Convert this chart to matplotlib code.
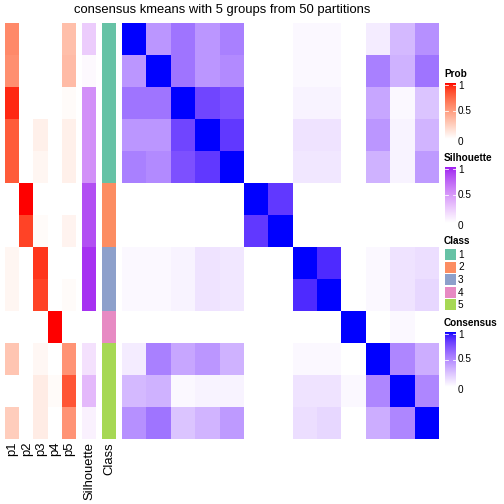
import numpy as np
import matplotlib
matplotlib.use("Agg")
import matplotlib.pyplot as plt
from matplotlib.colors import ListedColormap

plt.rcParams['font.family'] = ['Liberation Sans', 'DejaVu Sans']

# membership probabilities for each sample (13 samples x 5 classes)
prob_labels = ["p1", "p2", "p3", "p4", "p5"]
prob = [
    [0.60, 0.00, 0.00, 0.00, 0.33],
    [0.57, 0.00, 0.00, 0.00, 0.35],
    [0.95, 0.00, 0.00, 0.00, 0.02],
    [0.80, 0.00, 0.08, 0.00, 0.08],
    [0.80, 0.00, 0.05, 0.00, 0.08],
    [0.00, 1.00, 0.00, 0.00, 0.00],
    [0.00, 0.88, 0.02, 0.00, 0.06],
    [0.05, 0.00, 0.92, 0.00, 0.00],
    [0.05, 0.00, 0.88, 0.00, 0.02],
    [0.00, 0.00, 0.00, 1.00, 0.00],
    [0.30, 0.00, 0.04, 0.00, 0.55],
    [0.00, 0.00, 0.10, 0.02, 0.82],
    [0.26, 0.00, 0.10, 0.00, 0.55],
]
silhouette = [0.25, 0.03, 0.55, 0.55, 0.55, 0.85, 0.85, 0.95, 0.95, 0.0, 0.15, 0.35, 0.07]
classes = [1, 1, 1, 1, 1, 2, 2, 3, 3, 4, 5, 5, 5]
class_names = ["1", "2", "3", "4", "5"]
class_colors = ["#66C2A5", "#FC8D62", "#8DA0CB", "#E78AC3", "#A6D854"]

consensus = [
    [1.00, 0.45, 0.60, 0.45, 0.55, 0, 0, 0.03, 0.03, 0, 0.08, 0.30, 0.48],
    [0.45, 1.00, 0.60, 0.45, 0.50, 0, 0, 0.03, 0.03, 0, 0.55, 0.33, 0.60],
    [0.60, 0.60, 1.00, 0.80, 0.75, 0, 0, 0.05, 0.05, 0, 0.38, 0.03, 0.25],
    [0.45, 0.45, 0.80, 1.00, 0.85, 0, 0, 0.12, 0.12, 0, 0.45, 0.05, 0.32],
    [0.55, 0.50, 0.75, 0.85, 1.00, 0, 0, 0.10, 0.10, 0, 0.33, 0.05, 0.43],
    [0, 0, 0, 0, 0, 1.00, 0.85, 0, 0, 0, 0, 0, 0],
    [0, 0, 0, 0, 0, 0.85, 1.00, 0, 0, 0, 0, 0, 0],
    [0.03, 0.03, 0.05, 0.12, 0.10, 0, 0, 1.00, 0.90, 0, 0.03, 0.12, 0.14],
    [0.03, 0.03, 0.05, 0.12, 0.10, 0, 0, 0.90, 1.00, 0, 0.03, 0.12, 0.17],
    [0, 0, 0, 0, 0, 0, 0, 0, 0, 1.00, 0, 0.03, 0],
    [0.08, 0.55, 0.38, 0.45, 0.33, 0, 0, 0.03, 0.03, 0, 1.00, 0.52, 0.35],
    [0.30, 0.33, 0.03, 0.05, 0.05, 0, 0, 0.12, 0.12, 0.03, 0.52, 1.00, 0.52],
    [0.48, 0.60, 0.25, 0.32, 0.43, 0, 0, 0.14, 0.17, 0, 0.35, 0.52, 1.00],
]


def srgb_to_lab(rgb):
    c = np.array(rgb, dtype=float)
    c = np.where(c <= 0.04045, c / 12.92, ((c + 0.055) / 1.055) ** 2.4)
    m = np.array([[0.4124, 0.3576, 0.1805],
                  [0.2126, 0.7152, 0.0722],
                  [0.0193, 0.1192, 0.9505]])
    xyz = m @ c / np.array([0.95047, 1.0, 1.08883])
    f = np.where(xyz > 0.008856, np.cbrt(xyz), 7.787 * xyz + 16 / 116)
    return np.array([116 * f[1] - 16, 500 * (f[0] - f[1]), 200 * (f[1] - f[2])])


def lab_to_srgb(lab):
    L, a, b = lab
    fy = (L + 16) / 116
    fx = fy + a / 500
    fz = fy - b / 200
    f = np.array([fx, fy, fz])
    xyz = np.where(f ** 3 > 0.008856, f ** 3, (f - 16 / 116) / 7.787)
    xyz = xyz * np.array([0.95047, 1.0, 1.08883])
    minv = np.array([[3.2406, -1.5372, -0.4986],
                     [-0.9689, 1.8758, 0.0415],
                     [0.0557, -0.2040, 1.0570]])
    c = minv @ xyz
    c = np.where(c <= 0.0031308, 12.92 * c, 1.055 * np.abs(c) ** (1 / 2.4) - 0.055)
    return np.clip(c, 0, 1)


def lab_cmap(c0, c1, n=256):
    l0, l1 = srgb_to_lab(c0), srgb_to_lab(c1)
    cols = [lab_to_srgb(l0 + (l1 - l0) * t) for t in np.linspace(0, 1, n)]
    return ListedColormap(cols)


red_cmap = lab_cmap((1, 1, 1), (1, 0, 0))
purple_cmap = lab_cmap((1, 1, 1), (160 / 255, 32 / 255, 240 / 255))
blue_cmap = lab_cmap((1, 1, 1), (0, 0, 1))

W = H = 504
fig = plt.figure(figsize=(7, 7), dpi=72)


def add_ax(x0, y0, x1, y1):
    ax = fig.add_axes([x0 / W, 1 - y1 / H, (x1 - x0) / W, (y1 - y0) / H])
    ax.set_axis_off()
    return ax


top, bottom = 23, 439

ax = add_ax(5, top, 76, bottom)
ax.imshow(np.array(prob), cmap=red_cmap, vmin=0, vmax=1, aspect='auto', interpolation='nearest')
ax = add_ax(82, top, 96, bottom)
ax.imshow(np.array(silhouette)[:, None], cmap=purple_cmap, vmin=0, vmax=1, aspect='auto', interpolation='nearest')
ax = add_ax(102, top, 116, bottom)
ax.imshow(np.array(classes)[:, None], cmap=ListedColormap(class_colors), vmin=0.5, vmax=5.5,
          aspect='auto', interpolation='nearest')
ax = add_ax(122, top, 439, bottom)
ax.imshow(np.array(consensus), cmap=blue_cmap, vmin=0, vmax=1, aspect='auto', interpolation='nearest')

# column labels under annotations
lab_x = [12.5, 27, 41, 55, 69, 89, 109]
for x, t in zip(lab_x, prob_labels + ["Silhouette", "Class"]):
    fig.text(x / W, 1 - 442 / H, t, rotation=90, ha='center', va='top', fontsize=13)

fig.text(222 / W, 1 - 10 / H, "consensus kmeans with 5 groups from 50 partitions",
         ha='center', va='center', fontsize=13)


def color_legend(title, cmap, ytitle, y0, y1):
    fig.text(444 / W, 1 - ytitle / H, title, fontsize=10, fontweight='bold', ha='left', va='center')
    ax = add_ax(445, y0, 456, y1)
    ax.imshow(np.linspace(1, 0, 100)[:, None], cmap=cmap, vmin=0, vmax=1, aspect='auto')
    ax.set_xlim(-0.5, 0.5)
    for v in (1.0, 0.5):
        yy = (1 - v) * 99
        if v == 1.0:
            yy = 3
        ax.plot([-0.5, -0.25], [yy, yy], color='white', lw=0.8)
        ax.plot([0.25, 0.5], [yy, yy], color='white', lw=0.8)
    for v, lab in ((1, "1"), (0.5, "0.5"), (0, "0")):
        y = y1 - v * (y1 - y0)
        if v == 1:
            y = y0 + 3
        if v == 0:
            y = y1 + 3
        fig.text(458 / W, 1 - y / H, lab, fontsize=10, ha='left', va='center')


color_legend("Prob", red_cmap, 74, 83, 139)
color_legend("Silhouette", purple_cmap, 158, 167, 223)

fig.text(444 / W, 1 - 241 / H, "Class", fontsize=10, fontweight='bold', ha='left', va='center')
for i, (name, col) in enumerate(zip(class_names, class_colors)):
    y0 = 249 + i * 12.5
    ax = add_ax(445, y0, 456, y0 + 11)
    ax.set_facecolor(col)
    ax.set_axis_on()
    ax.set_xticks([])
    ax.set_yticks([])
    for s in ax.spines.values():
        s.set_visible(False)
    fig.text(458 / W, 1 - (y0 + 6) / H, name, fontsize=10, ha='left', va='center')

color_legend("Consensus", blue_cmap, 323, 332, 387)

fig.savefig("out.png", dpi=72)
